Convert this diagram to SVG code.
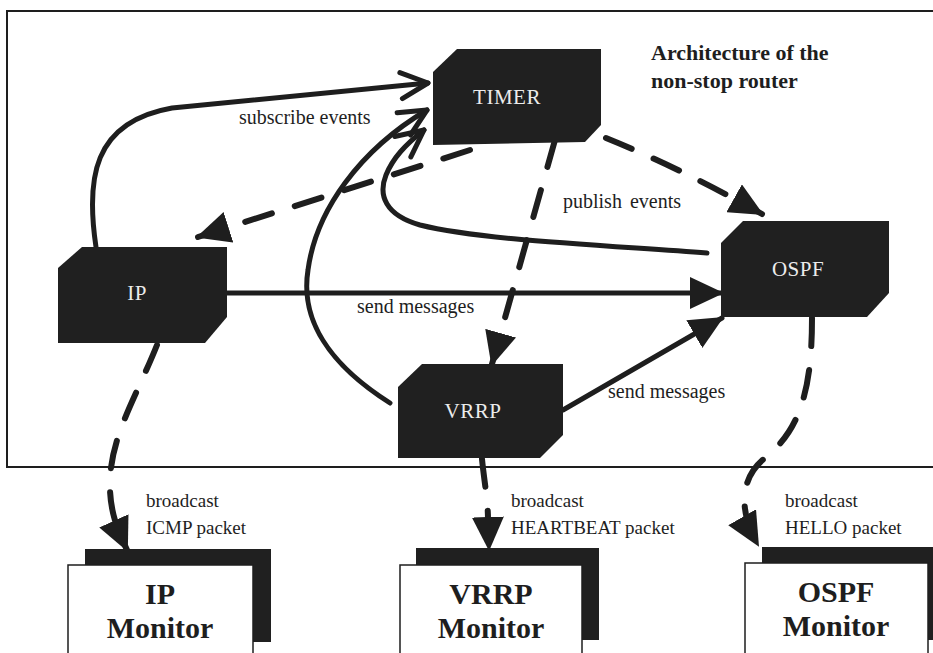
<svg xmlns="http://www.w3.org/2000/svg" width="933" height="653" viewBox="0 0 933 653">
  <defs>
    <style>
      .frame { fill: none; stroke: #1e1e1e; stroke-width: 2; }
      .node { fill: #202020; }
      .ntext { fill: #ececec; font-family: "Liberation Serif", "Times New Roman", serif; font-size: 21px; text-anchor: middle; letter-spacing: 0.5px; }
      .solid { fill: none; stroke: #1e1e1e; stroke-width: 5; stroke-linecap: round; stroke-linejoin: round; }
      .dash { fill: none; stroke: #1e1e1e; stroke-width: 6; stroke-linecap: round; stroke-dasharray: 28 24; }
      .label { fill: #1e1e1e; font-family: "Liberation Serif", "Times New Roman", serif; font-size: 19px; }
      .flow { font-size: 20px; }
      .title { fill: #1e1e1e; font-family: "Liberation Serif", "Times New Roman", serif; font-size: 22px; font-weight: bold; }
      .shadow { fill: #202020; }
      .mbox { fill: #ffffff; stroke: #1e1e1e; stroke-width: 1.5; }
      .mtext { fill: #1e1e1e; font-family: "Liberation Serif", "Times New Roman", serif; font-size: 30px; font-weight: bold; text-anchor: middle; }
    </style>
    <marker id="head" markerUnits="userSpaceOnUse" markerWidth="34" markerHeight="32" viewBox="0 0 34 32" refX="32" refY="16" orient="auto">
      <path d="M0,0 L34,16 L0,32 Z" fill="#1e1e1e"/>
    </marker>
    <marker id="vee" markerUnits="userSpaceOnUse" markerWidth="36" markerHeight="36" viewBox="0 0 36 36" refX="32" refY="18" orient="auto">
      <path d="M5,5 L32,18 L5,31" fill="none" stroke="#1e1e1e" stroke-width="5" stroke-linecap="round" stroke-linejoin="round"/>
    </marker>
  </defs>

  <rect width="933" height="653" fill="#ffffff"/>

  <!-- router boundary -->
  <path class="frame" d="M933,11 L7,11 L7,467 L933,467"/>

  <text class="title" x="651" y="60">Architecture of the</text>
  <text class="title" x="651" y="88">non-stop router</text>

  <!-- connectors -->
  <g id="connectors">
    <!-- subscriptions to the timer -->
    <path class="solid" marker-end="url(#vee)" d="M96,247 C86,180 92,122 172,108 L428,83"/>
    <path class="solid" marker-end="url(#vee)" d="M390,403 C330,365 300,320 308,270 C316,210 360,150 427,110"/>
    <path class="solid" marker-end="url(#vee)" d="M707,253 C600,245 480,240 420,225 C385,215 378,195 386,175 C393,158 405,145 424,130"/>

    <!-- published events -->
    <path class="dash" marker-end="url(#head)" d="M470,150 L198,237"/>
    <path class="dash" marker-end="url(#head)" d="M606,138 Q680,168 762,214"/>
    <path class="dash" marker-end="url(#head)" d="M555,140 L492,364"/>

    <!-- messages -->
    <path class="solid" marker-end="url(#head)" d="M227,293 L722,293"/>
    <path class="solid" marker-end="url(#head)" d="M563,410 L722,318"/>

    <!-- broadcasts to the monitors -->
    <path class="dash" marker-end="url(#head)" d="M157,345 C135,400 108,440 110,490 C111,515 118,530 127,550"/>
    <path class="dash" marker-end="url(#head)" d="M482,459 C484,480 488,500 488,520 L489,549"/>
    <path class="dash" marker-end="url(#head)" d="M812,318 C812,390 800,430 765,458 C740,478 738,510 758,545"/>
  </g>

  <!-- connector labels -->
  <text class="label flow" x="239" y="124">subscribe events</text>
  <text class="label flow" x="563" y="208" word-spacing="3">publish events</text>
  <text class="label flow" x="357" y="313">send messages</text>
  <text class="label flow" x="608" y="398">send messages</text>

  <text class="label" x="146" y="507">broadcast</text>
  <text class="label" x="146" y="534">ICMP packet</text>
  <text class="label" x="511" y="507">broadcast</text>
  <text class="label" x="511" y="534">HEARTBEAT packet</text>
  <text class="label" x="785" y="507">broadcast</text>
  <text class="label" x="785" y="534">HELLO packet</text>

  <!-- router components -->
  <g id="timer">
    <polygon class="node" points="457,49 601,49 601,125 585,142 433,145 433,72"/>
    <text class="ntext" x="507" y="104">TIMER</text>
  </g>
  <g id="ip">
    <polygon class="node" points="82,247 227,247 227,317 205,343 58,343 58,268"/>
    <text class="ntext" x="137" y="300">IP</text>
  </g>
  <g id="ospf">
    <polygon class="node" points="743,221 889,221 889,293 867,317 721,317 721,243"/>
    <text class="ntext" x="798" y="276">OSPF</text>
  </g>
  <g id="vrrp">
    <polygon class="node" points="422,364 563,364 563,435 540,458 398,458 398,387"/>
    <text class="ntext" x="473" y="418">VRRP</text>
  </g>

  <!-- monitors -->
  <g id="ip-monitor">
    <rect class="shadow" x="85" y="549" width="186" height="93"/>
    <rect class="mbox" x="68" y="565" width="185" height="100"/>
    <text class="mtext" x="160" y="604">IP</text>
    <text class="mtext" x="160" y="638">Monitor</text>
  </g>
  <g id="vrrp-monitor">
    <rect class="shadow" x="416" y="548" width="183" height="92"/>
    <rect class="mbox" x="400" y="565" width="182" height="100"/>
    <text class="mtext" x="491" y="604">VRRP</text>
    <text class="mtext" x="491" y="638">Monitor</text>
  </g>
  <g id="ospf-monitor">
    <rect class="shadow" x="762" y="547" width="185" height="93"/>
    <rect class="mbox" x="745" y="563" width="183" height="100"/>
    <text class="mtext" x="836" y="602">OSPF</text>
    <text class="mtext" x="836" y="636">Monitor</text>
  </g>
</svg>
